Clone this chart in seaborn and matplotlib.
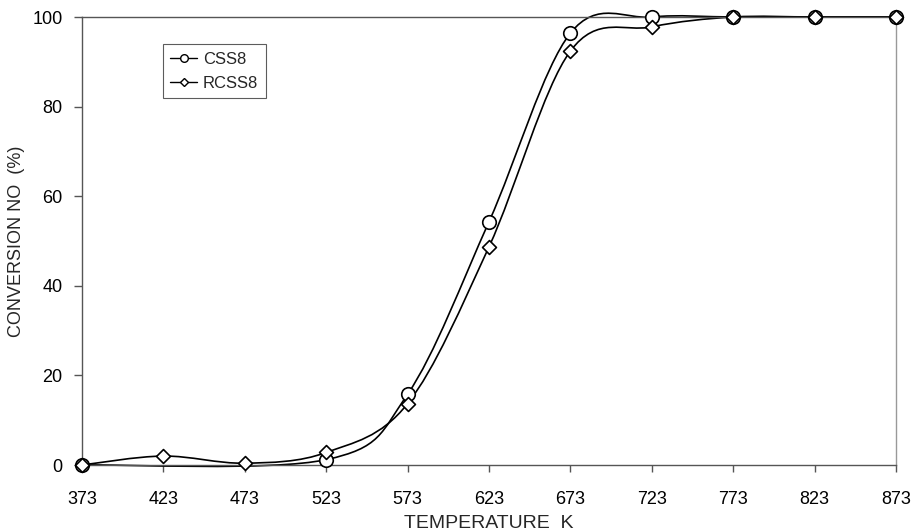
import numpy as np
import pandas as pd
import matplotlib
matplotlib.use("Agg")
import matplotlib.pyplot as plt
import seaborn as sns
from matplotlib.path import Path
from matplotlib.patches import PathPatch
from matplotlib.lines import Line2D

temperature = [373, 423, 473, 523, 573, 623, 673, 723, 773, 823, 873]
css8 = [0, np.nan, np.nan, 1.2, 15.8, 54.3, 96.4, 100, 100, 100, 100]
rcss8 = [0, 2, 0.4, 2.8, 13.7, 48.7, 92.4, 97.8, 100, 100, 100]
series_names = ["CSS8", "RCSS8"]
y_ticks = [0, 20, 40, 60, 80, 100]

sns.set_theme(style="white")
plt.rcParams['font.family'] = ['Liberation Sans', 'DejaVu Sans']

fig = plt.figure(figsize=(9.12, 5.32), dpi=100)
L, R, T, B = 82, 896, 17, 465
ax = fig.add_axes([L/912, (532-B)/532, (R-L)/912, (B-T)/532])


def smooth_path(xs, ys):
    xs = np.asarray(xs, float)
    ys = np.asarray(ys, float)
    ok = ~np.isnan(ys)
    pts = np.column_stack([xs[ok], ys[ok]])
    n = len(pts)
    verts = [pts[0]]
    codes = [Path.MOVETO]
    for i in range(n - 1):
        p0 = pts[i - 1] if i > 0 else pts[i]
        p1 = pts[i]
        p2 = pts[i + 1]
        p3 = pts[i + 2] if i + 2 < n else pts[i + 1]
        c1 = p1 + (p2 - p0) / 6.0
        c2 = p2 - (p3 - p1) / 6.0
        verts += [c1, c2, p2]
        codes += [Path.CURVE4] * 3
    return Path(verts, codes)


for ys in (css8, rcss8):
    ax.add_patch(PathPatch(smooth_path(temperature, ys), facecolor="none",
                           edgecolor="black", lw=1.2, zorder=2, clip_on=False))

df = pd.DataFrame({"T": temperature * 2, "v": css8 + rcss8,
                   "s": [series_names[0]] * len(temperature) + [series_names[1]] * len(temperature)})
sns.scatterplot(data=df[df.s == "CSS8"].dropna(), x="T", y="v", marker="o", s=95,
                facecolor="white", edgecolor="black", linewidth=1.2, ax=ax,
                zorder=3, legend=False, clip_on=False)
sns.scatterplot(data=df[df.s == "RCSS8"], x="T", y="v", marker="D", s=50,
                facecolor="white", edgecolor="black", linewidth=1.2, ax=ax,
                zorder=4, legend=False, clip_on=False)

ax.set_xlim(373, 873)
ax.set_ylim(0, 100)
ax.set_xticks(temperature)
ax.set_xticklabels([str(t) for t in temperature])
ax.set_yticks(y_ticks)
ax.tick_params(axis="both", direction="out", width=1, color="#555555",
               labelsize=13, labelcolor="black", bottom=True, left=True)
ax.tick_params(axis="x", length=5, pad=14)
ax.tick_params(axis="y", length=6, pad=8)
ax.set_xlabel("TEMPERATURE  K", fontsize=14, labelpad=5)
ax.set_ylabel("CONVERSION NO  (%)", fontsize=13, labelpad=5)

for side in ("left", "bottom", "top"):
    ax.spines[side].set_color("#555555")
    ax.spines[side].set_linewidth(1.0)
    ax.spines[side].set_visible(True)
ax.spines["right"].set_color("#999999")
ax.spines["right"].set_linewidth(1.0)
ax.spines["right"].set_visible(True)

handles = [
    Line2D([], [], color="black", lw=1.0, marker="o", markersize=5.5,
           markerfacecolor="white", markeredgecolor="black"),
    Line2D([], [], color="black", lw=1.0, marker="D", markersize=4.5,
           markerfacecolor="white", markeredgecolor="black"),
]
leg = ax.legend(handles, series_names, loc="upper left",
                bbox_to_anchor=((163-L)/(R-L), (B-44)/(B-T)), frameon=True,
                fancybox=False, edgecolor="#333333", fontsize=12, handlelength=1.6,
                handletextpad=0.35, borderpad=0.45, labelspacing=0.55, borderaxespad=0)
leg.get_frame().set_linewidth(0.8)

fig.savefig("out.png", dpi=100, facecolor="white")
